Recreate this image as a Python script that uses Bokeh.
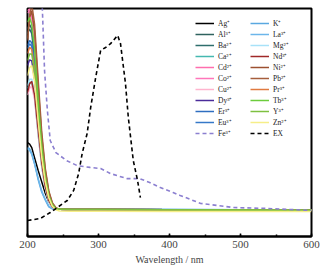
from bokeh.plotting import figure
from bokeh.models import Range1d, Legend, LegendItem, SingleIntervalTicker
from bokeh.embed import file_html
from bokeh.resources import INLINE

FONT = "Liberation Serif"

# ---- data ----
wl = [200, 203, 206, 210, 215, 220, 225, 230, 235, 240, 245, 260, 300, 400, 500, 600]

ag = [0.412, 0.405, 0.39, 0.345, 0.29, 0.24, 0.19, 0.152, 0.132, 0.122, 0.119, 0.118, 0.118, 0.117, 0.116, 0.115]
al = [0.912, 0.93, 0.91, 0.80, 0.58, 0.39, 0.26, 0.178, 0.138, 0.122, 0.119, 0.118, 0.118, 0.117, 0.116, 0.115]
ba = [0.89, 0.91, 0.89, 0.78, 0.57, 0.38, 0.255, 0.175, 0.137, 0.122, 0.119, 0.118, 0.118, 0.117, 0.116, 0.115]
ca = [0.649, 0.675, 0.675, 0.61, 0.45, 0.31, 0.21, 0.152, 0.127, 0.12, 0.119, 0.118, 0.118, 0.117, 0.116, 0.115]
cd = [0.99, 1.0, 0.97, 0.85, 0.62, 0.41, 0.27, 0.185, 0.14, 0.123, 0.119, 0.118, 0.118, 0.117, 0.116, 0.115]
co = [0.98, 0.99, 0.96, 0.84, 0.61, 0.40, 0.265, 0.18, 0.138, 0.122, 0.119, 0.118, 0.118, 0.117, 0.116, 0.115]
cu = [0.62, 0.65, 0.66, 0.60, 0.45, 0.31, 0.212, 0.153, 0.128, 0.12, 0.119, 0.118, 0.118, 0.117, 0.116, 0.115]
dy = [0.75, 0.775, 0.77, 0.69, 0.51, 0.345, 0.235, 0.165, 0.132, 0.12, 0.119, 0.118, 0.118, 0.117, 0.116, 0.115]
er = [0.838, 0.86, 0.85, 0.75, 0.55, 0.37, 0.25, 0.172, 0.135, 0.121, 0.119, 0.118, 0.118, 0.117, 0.116, 0.115]
eu = [0.825, 0.845, 0.835, 0.74, 0.54, 0.365, 0.245, 0.17, 0.134, 0.121, 0.119, 0.118, 0.118, 0.117, 0.116, 0.115]
k = [0.39, 0.385, 0.365, 0.32, 0.25, 0.195, 0.16, 0.13, 0.121, 0.119, 0.119, 0.119, 0.119, 0.118, 0.117, 0.117]
la = [0.385, 0.378, 0.36, 0.318, 0.255, 0.2, 0.163, 0.133, 0.122, 0.119, 0.119, 0.119, 0.119, 0.118, 0.117, 0.117]
mg = [0.662, 0.69, 0.69, 0.62, 0.46, 0.315, 0.215, 0.155, 0.128, 0.12, 0.119, 0.118, 0.118, 0.117, 0.116, 0.115]
nd = [0.632, 0.67, 0.68, 0.62, 0.47, 0.325, 0.22, 0.158, 0.13, 0.12, 0.119, 0.118, 0.118, 0.117, 0.116, 0.115]
ni = [0.868, 0.96, 0.99, 0.90, 0.66, 0.44, 0.29, 0.195, 0.145, 0.125, 0.119, 0.118, 0.118, 0.117, 0.116, 0.115]
pb = [0.86, 0.97, 1.02, 0.93, 0.69, 0.46, 0.30, 0.20, 0.148, 0.126, 0.119, 0.118, 0.118, 0.117, 0.116, 0.115]
pr = [0.803, 0.83, 0.82, 0.73, 0.535, 0.36, 0.245, 0.17, 0.134, 0.121, 0.119, 0.118, 0.118, 0.117, 0.116, 0.115]
tb = [0.94, 0.96, 0.93, 0.82, 0.60, 0.40, 0.265, 0.18, 0.14, 0.123, 0.119, 0.118, 0.118, 0.117, 0.116, 0.115]
yy = [0.772, 0.80, 0.80, 0.72, 0.53, 0.36, 0.245, 0.172, 0.136, 0.122, 0.119, 0.118, 0.118, 0.117, 0.116, 0.115]
zn = [0.706, 0.74, 0.75, 0.68, 0.51, 0.35, 0.24, 0.17, 0.133, 0.117, 0.112, 0.111, 0.111, 0.110, 0.110, 0.110]

fe_wl = [219, 221, 222.5, 224, 226, 228, 232, 240, 255, 270, 288, 303, 317, 340, 358, 372, 387, 405, 415, 444, 468, 490, 538, 600]
fe = [1.10, 0.991, 0.860, 0.728, 0.640, 0.553, 0.421, 0.368, 0.333, 0.311, 0.303, 0.298, 0.276, 0.254, 0.254, 0.237, 0.215, 0.193, 0.180, 0.145, 0.136, 0.127, 0.123, 0.114]

ex_wl = [200, 218, 232, 242, 256, 265, 272, 277, 284, 289, 296, 303, 310, 317, 327, 331, 338, 342, 349, 355, 359]
ex = [0.070, 0.079, 0.105, 0.127, 0.158, 0.202, 0.276, 0.364, 0.452, 0.566, 0.697, 0.816, 0.829, 0.846, 0.882, 0.846, 0.671, 0.522, 0.333, 0.246, 0.171]

col1 = [("Ag⁺", ag, "#000000"), ("Al³⁺", al, "#2F625E"), ("Ba²⁺", ba, "#2E6E6C"),
        ("Ca²⁺", ca, "#45B8B0"), ("Cd²⁺", cd, "#FF6EAE"), ("Co²⁺", co, "#FF76BA"),
        ("Cu²⁺", cu, "#FFB4CE"), ("Dy³⁺", dy, "#4B2C9A"), ("Er³⁺", er, "#2F6EC0"),
        ("Eu³⁺", eu, "#3578C8")]
col2 = [("K⁺", k, "#5AA8E0"), ("La³⁺", la, "#6CB6EA"), ("Mg²⁺", mg, "#A8E2F8"),
        ("Nd³⁺", nd, "#A02828"), ("Ni²⁺", ni, "#9C5030"), ("Pb²⁺", pb, "#A65E3C"),
        ("Pr³⁺", pr, "#E07A40"), ("Tb³⁺", tb, "#6CCC3C"), ("Y³⁺", yy, "#7EC040"),
        ("Zn²⁺", zn, "#F6EE88")]

p = figure(width=328, height=268, output_backend="svg", toolbar_location=None,
           x_range=Range1d(200, 600), y_range=Range1d(0, 1),
           y_axis_location=None, min_border_left=27, min_border_right=17,
           min_border_top=8, min_border_bottom=32)
p.outline_line_color = "black"
p.outline_line_width = 2
p.xgrid.visible = False
p.ygrid.visible = False
p.background_fill_color = "white"

items1, items2 = [], []
renderers = {}
for name, vals, c in col1 + col2:
    renderers[name] = p.line(wl, vals, line_color=c, line_width=1.5)

r_fe = p.line(fe_wl, fe, line_color="#8B7FD0", line_width=1.6, line_dash="4 3")
r_ex = p.line(ex_wl, ex, line_color="black", line_width=1.6, line_dash="4 3")

for name, _, _ in col1:
    items1.append(LegendItem(label=name, renderers=[renderers[name]]))
items1.append(LegendItem(label="Fe³⁺", renderers=[r_fe]))
for name, _, _ in col2:
    items2.append(LegendItem(label=name, renderers=[renderers[name]]))
items2.append(LegendItem(label="EX", renderers=[r_ex]))

for items, xoff in ((items1, 168), (items2, 223)):
    leg = Legend(items=items, location=(xoff, 98), padding=0, margin=0,
                 spacing=1, glyph_width=19, glyph_height=10, label_height=10,
                 label_standoff=4, border_line_color=None,
                 background_fill_alpha=0, label_text_font=FONT,
                 label_text_font_size="7.5px", label_text_color="#222222")
    p.add_layout(leg)

ax = p.xaxis[0]
ax.ticker = SingleIntervalTicker(interval=100, num_minor_ticks=2)
ax.axis_label = "Wavelength / nm"
ax.axis_label_text_font = FONT
ax.axis_label_text_font_style = "normal"
ax.axis_label_text_font_size = "10px"
ax.axis_label_standoff = 3
ax.major_label_text_font = FONT
ax.major_label_text_font_size = "11px"
ax.major_label_standoff = 4
ax.major_tick_in = 3
ax.major_tick_out = 0
ax.minor_tick_in = 2
ax.minor_tick_out = 0
ax.axis_line_width = 2
ax.axis_line_color = "black"
ax.major_tick_line_width = 1.5
ax.minor_tick_line_width = 1.5

open("out.html", "w").write(file_html(p, INLINE))
